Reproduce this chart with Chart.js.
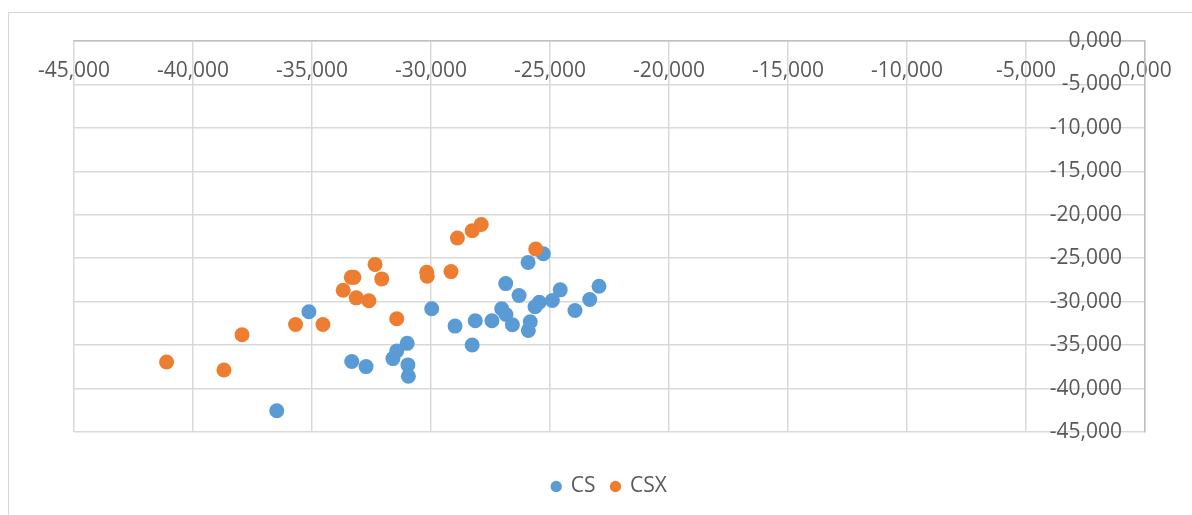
<!DOCTYPE html>
<html>
<head>
<meta charset="utf-8">
<script src="https://cdn.jsdelivr.net/npm/chart.js@4.4.1/dist/chart.umd.min.js"></script>
<style>
  body { margin: 0; background: #fff; }
  #frame { position: absolute; left: 8px; top: 12px; width: 1190px; height: 510px; border: 1px solid #d9d9d9; }
  #wrap { position: absolute; left: 0; top: 0; width: 1192px; height: 515px; }
</style>
</head>
<body>
<div id="frame"></div>
<div id="wrap"><canvas id="Charts"></canvas></div>
<script>
// values (axis shows -45,000 .. 0,000)
var csX = [-36.48, -35.13, -33.33, -32.73, -31.60, -31.44, -31.00, -30.97, -30.95, -29.97,
           -28.99, -28.27, -28.14, -27.44, -27.03, -26.85, -26.86, -26.58, -26.30, -25.92,
           -25.91, -25.83, -25.63, -25.45, -25.28, -24.90, -24.57, -23.95, -23.33, -22.94];
var csY = [-42.56, -31.16, -36.89, -37.47, -36.55, -35.68, -34.80, -37.28, -38.58, -30.82,
           -32.81, -34.99, -32.19, -32.19, -30.82, -31.47, -27.92, -32.65, -29.29, -25.48,
           -33.31, -32.31, -30.59, -30.06, -24.48, -29.87, -28.64, -31.01, -29.75, -28.23];
var csxX = [-41.11, -38.70, -37.94, -35.69, -34.54, -33.69, -33.35, -33.24, -33.14, -32.61,
            -32.35, -32.07, -31.44, -30.18, -30.16, -29.16, -28.89, -28.27, -27.89, -25.60];
var csxY = [-36.94, -37.86, -33.80, -32.62, -32.62, -28.69, -27.20, -27.20, -29.56, -29.90,
            -25.71, -27.38, -31.96, -26.62, -27.08, -26.54, -22.68, -21.84, -21.12, -23.94];
var tickValues = [-45, -40, -35, -30, -25, -20, -15, -10, -5, 0];
var seriesNames = ['CS', 'CSX'];

function toPoints(xs, ys) {
    var pts = [];
    for (let i = 0; i < xs.length; i++) {
        pts.push({x: xs[i], y: ys[i]});
    }
    return pts;
}
function fmt(v) {
    return v.toFixed(3).replace('.', ',');
}
function setTicks(scale) {
    scale.ticks = tickValues.map(v => ({value: v}));
}

var font = {family: "'Open Sans'", size: 21};
var ctx = document.getElementById('Charts').getContext('2d');
var myChart = new Chart(ctx, {
    type: 'scatter',
    data: {
        datasets: [
            {
                label: seriesNames[0],
                data: toPoints(csX, csY),
                backgroundColor: '#5b9bd5',
                borderWidth: 0,
                pointRadius: 7.5,
                order: 1
            },
            {
                label: seriesNames[1],
                data: toPoints(csxX, csxY),
                backgroundColor: '#ed7d31',
                borderWidth: 0,
                pointRadius: 7.5,
                order: 0
            }
        ]
    },
    options: {
        responsive: true,
        maintainAspectRatio: false,
        animation: false,
        layout: {padding: {left: 74, top: 41, right: 47, bottom: 8}},
        scales: {
            x: {
                position: 'top',
                min: -45, max: 0,
                afterBuildTicks: setTicks,
                afterFit: s => { s.height = 0; },
                grid: {color: '#d9d9d9', lineWidth: 1.5, drawTicks: false},
                border: {color: '#bfbfbf', width: 1.5},
                ticks: {mirror: true, padding: 17, color: '#595959', font: font, maxRotation: 0,
                        callback: v => fmt(v)}
            },
            y: {
                position: 'right',
                min: -45, max: 0,
                afterBuildTicks: setTicks,
                afterFit: s => { s.width = 0; },
                grid: {color: '#d9d9d9', lineWidth: 1.5, drawTicks: false},
                border: {color: '#bfbfbf', width: 1.5},
                ticks: {mirror: true, padding: -23, color: '#595959', font: font,
                        callback: v => fmt(v)}
            }
        },
        plugins: {
            tooltip: {enabled: false},
            legend: {
                position: 'bottom',
                title: {display: true, text: ' ', font: {size: 10}, padding: 8},
                labels: {
                    usePointStyle: true,
                    pointStyle: 'circle',
                    boxWidth: 8,
                    boxHeight: 8,
                    padding: 16,
                    color: '#595959',
                    font: {family: "'Open Sans'", size: 21},
                    sort: (a, b) => a.datasetIndex - b.datasetIndex
                }
            }
        }
    }
});
</script>
</body>
</html>
